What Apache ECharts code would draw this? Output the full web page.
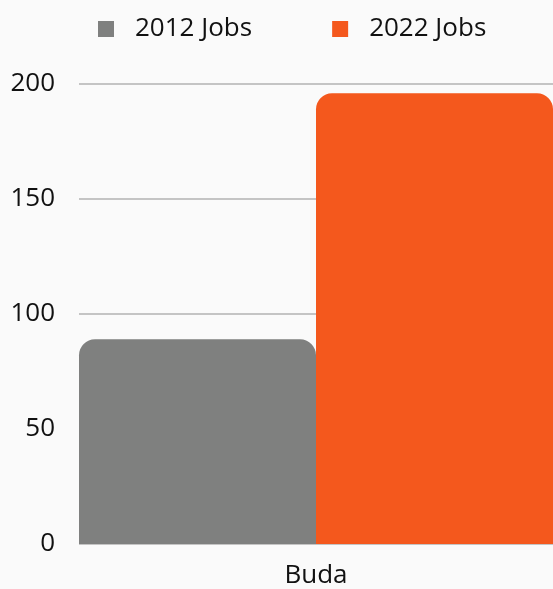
<!DOCTYPE html>
<html>
<head>
<meta charset="utf-8">
<script src="https://cdn.jsdelivr.net/npm/echarts@6/dist/echarts.min.js"></script>
<style>
  html, body { margin: 0; padding: 0; background: #fafafa; }
  #chart { width: 553px; height: 589px; }
</style>
</head>
<body>
<div id="chart"></div>
<script>
const categories = ["Buda"];
const jobs2012 = [89];
const jobs2022 = [196];
const yTicks = { min: 0, max: 200, interval: 50 };

const chart = echarts.init(document.getElementById("chart"));
const font = "'Open Sans', 'Noto Sans', sans-serif";
chart.setOption({
  backgroundColor: "#fafafa",
  textStyle: { fontFamily: font },
  legend: {
    top: 11,
    left: 93,
    itemWidth: 16,
    itemHeight: 16,
    itemGap: 80,
    icon: "rect",
    textStyle: { fontSize: 26, color: "#111", fontFamily: font, padding: [0, 0, 0, 16] }
  },
  grid: { left: 79, right: 0, top: 84, bottom: 43 },
  xAxis: {
    type: "category",
    data: categories,
    axisLine: { show: false },
    axisTick: { show: false },
    axisLabel: { fontSize: 26, color: "#111", margin: 19, fontFamily: font }
  },
  yAxis: {
    type: "value",
    min: yTicks.min,
    max: yTicks.max,
    interval: yTicks.interval,
    axisLine: { show: false },
    axisTick: { show: false },
    axisLabel: { fontSize: 26, color: "#111", margin: 24, fontFamily: font },
    splitLine: { lineStyle: { color: "#c4c4c4", width: 2 } }
  },
  series: [
    {
      name: "2012 Jobs",
      type: "bar",
      data: jobs2012,
      barGap: "0%",
      barCategoryGap: "0%",
      itemStyle: { color: "#7f807f", borderRadius: [16, 16, 0, 0] }
    },
    {
      name: "2022 Jobs",
      type: "bar",
      data: jobs2022,
      itemStyle: { color: "#f4581d", borderRadius: [16, 16, 0, 0] }
    }
  ]
});
</script>
</body>
</html>
